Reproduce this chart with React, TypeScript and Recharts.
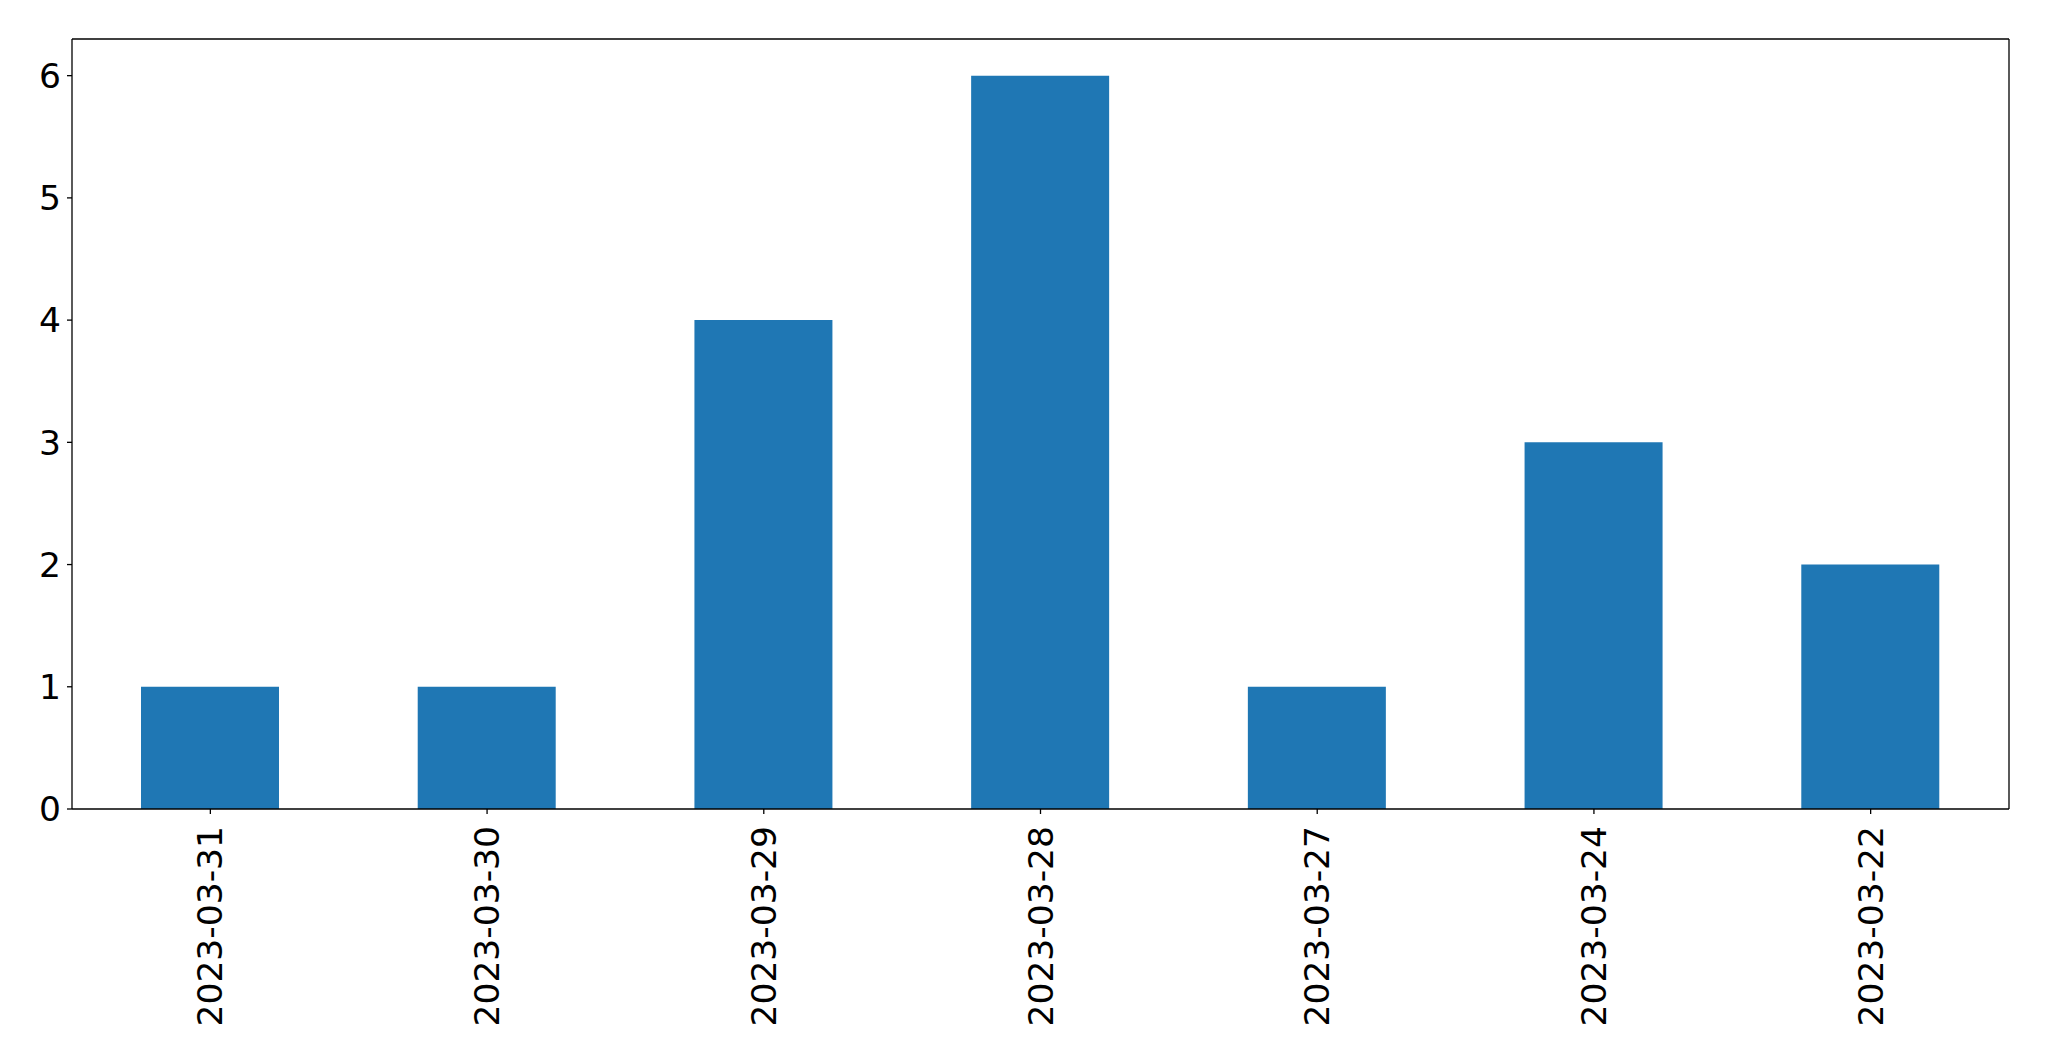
import { BarChart, Bar, XAxis, YAxis, CartesianGrid } from 'recharts';

const dates = ['2023-03-31', '2023-03-30', '2023-03-29', '2023-03-28', '2023-03-27', '2023-03-24', '2023-03-22'];
const counts = [1, 1, 4, 6, 1, 3, 2];
const yTicks = [0, 1, 2, 3, 4, 5, 6];

const chartData = dates.map((d, i) => ({ date: d, count: counts[i] }));

const FONT = 'DejaVu Sans';
const TICK_FONT = 34.5;

function DateTick(props: any) {
  const { x, y, payload } = props;
  return (
    <text
      x={x}
      y={y}
      transform={`rotate(-90, ${x}, ${y})`}
      textAnchor="end"
      dominantBaseline="central"
      fontFamily={FONT}
      fontSize={TICK_FONT}
      fill="#000"
    >
      {payload.value}
    </text>
  );
}

// top and right spines, like matplotlib's closed frame
const topSpine = ({ offset }: any) => [offset.top];
const rightSpine = ({ offset }: any) => [offset.left + offset.width];

export default function App() {
  return (
    <div style={{ position: 'absolute', left: 0, top: 0, background: '#fff' }}>
      <BarChart
        width={2049}
        height={1061}
        data={chartData}
        margin={{ top: 39, right: 40, bottom: 0, left: 0 }}
        barSize={138}
      >
        <CartesianGrid
          stroke="#000"
          strokeWidth={1.3}
          horizontalCoordinatesGenerator={topSpine}
          verticalCoordinatesGenerator={rightSpine}
        />
        <XAxis
          dataKey="date"
          height={252}
          interval={0}
          tick={<DateTick />}
          tickSize={5}
          tickMargin={12}
          axisLine={{ stroke: '#000', strokeWidth: 1.3 }}
          tickLine={{ stroke: '#000', strokeWidth: 1.3 }}
        />
        <YAxis
          width={72}
          domain={[0, 6.3]}
          ticks={yTicks}
          tickSize={5}
          tickMargin={6}
          tick={{ fontFamily: FONT, fontSize: TICK_FONT, fill: '#000' }}
          axisLine={{ stroke: '#000', strokeWidth: 1.3 }}
          tickLine={{ stroke: '#000', strokeWidth: 1.3 }}
        />
        <Bar dataKey="count" fill="#1f77b4" isAnimationActive={false} />
      </BarChart>
    </div>
  );
}
